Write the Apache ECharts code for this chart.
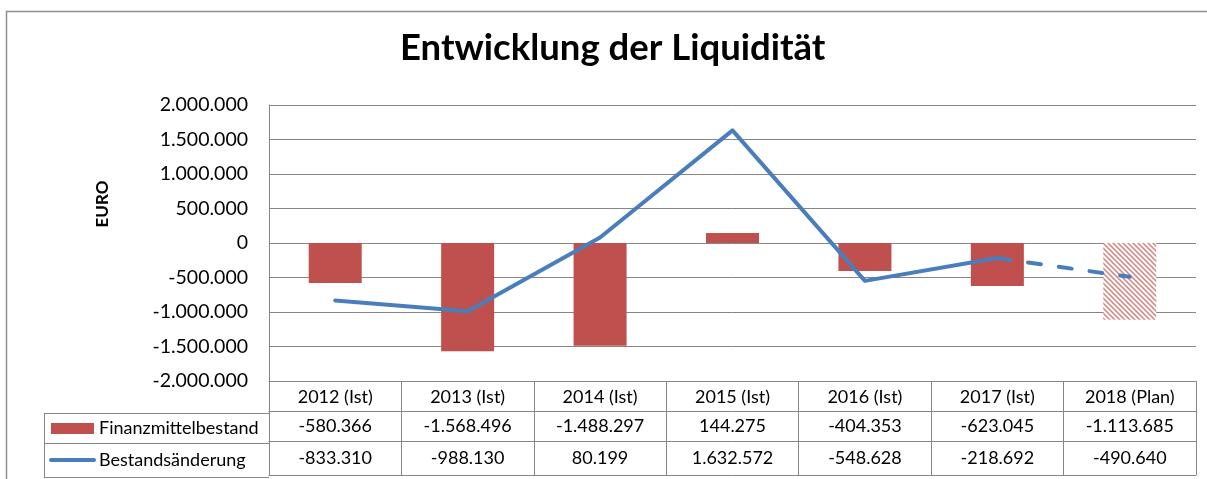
<!DOCTYPE html>
<html>
<head>
<meta charset="utf-8">
<script src="https://cdn.jsdelivr.net/npm/echarts@6/dist/echarts.min.js"></script>
<style>
html, body { margin: 0; padding: 0; background: #fff; }
#chart { width: 1207px; height: 479px; }
</style>
</head>
<body>
<div id="chart"></div>
<script>
var categories = ['2012 (Ist)', '2013 (Ist)', '2014 (Ist)', '2015 (Ist)', '2016 (Ist)', '2017 (Ist)', '2018 (Plan)'];
var finanzmittel = [-580366, -1568496, -1488297, 144275, -404353, -623045, -1113685];
var bestand = [-833310, -988130, 80199, 1632572, -548628, -218692, -490640];
var seriesNames = ['Finanzmittelbestand', 'Bestandsänderung'];
var planIndex = 6;

function fmt(n) {
    var s = String(Math.abs(Math.round(n)));
    var out = '';
    while (s.length > 3) {
        out = '.' + s.slice(-3) + out;
        s = s.slice(0, -3);
    }
    return (n < 0 ? '-' : '') + s + out;
}

// hatched fill for the plan bar
function makeHatch() {
    var n = 5;
    var c = document.createElement('canvas');
    c.width = n; c.height = n;
    var ctx = c.getContext('2d');
    ctx.fillStyle = '#ffffff';
    ctx.fillRect(0, 0, n, n);
    ctx.strokeStyle = '#d8807e';
    ctx.lineWidth = 1.5;
    ctx.beginPath();
    ctx.moveTo(-1, -1); ctx.lineTo(n + 1, n + 1);
    ctx.moveTo(-n - 1, -1); ctx.lineTo(1, n + 1);
    ctx.moveTo(n - 1, -1); ctx.lineTo(2 * n + 1, n + 1);
    ctx.stroke();
    return c;
}

var font = 'Lato, "Open Sans", sans-serif';
var gray = '#868686';
var blue = '#4A7EBB';
var red = '#C0504D';
var chart = echarts.init(document.getElementById('chart'));

var barData = finanzmittel.map(function (v, i) {
    if (i === planIndex) {
        return { value: v, itemStyle: { color: { image: makeHatch(), repeat: 'repeat' } } };
    }
    return v;
});
var solidLine = bestand.map(function (v, i) { return i < planIndex ? v : null; });
var dashLine = bestand.map(function (v, i) { return i >= planIndex - 1 ? v : null; });

function tableAxis(offset, labels, margin) {
    return {
        type: 'category',
        data: categories,
        position: 'bottom',
        offset: offset,
        axisLine: { show: true, onZero: false, lineStyle: { color: gray, width: 1 } },
        axisTick: { show: false },
        axisLabel: {
            interval: 0, margin: margin, color: '#000', fontFamily: font, fontSize: 18,
            formatter: labels ? function (v, i) { return labels[i]; } : function () { return ''; }
        }
    };
}

option = {
    animation: false,
    title: {
        text: 'Entwicklung der Liquidität',
        left: 400,
        top: 30,
        padding: 0,
        textStyle: { fontFamily: font, fontWeight: 'bold', fontSize: 36.5, color: '#000' }
    },
    grid: { left: 269, top: 105, width: 927, height: 277 },
    xAxis: [
        {
            type: 'category',
            data: categories,
            position: 'bottom',
            axisLine: { show: true, onZero: false, lineStyle: { color: gray, width: 1 } },
            axisTick: { show: true, length: 94, interval: 0, lineStyle: { color: gray, width: 1 } },
            axisLabel: { interval: 0, margin: 7, color: '#000', fontFamily: font, fontSize: 18 }
        },
        tableAxis(30, finanzmittel.map(fmt), 6),
        tableAxis(60, bestand.map(fmt), 8),
        tableAxis(94, null, 4)
    ],
    yAxis: {
        type: 'value',
        min: -2000000,
        max: 2000000,
        interval: 500000,
        axisLine: { show: true, lineStyle: { color: gray, width: 1 } },
        axisTick: { show: false },
        splitLine: { lineStyle: { color: gray, width: 1 } },
        axisLabel: { margin: 21, color: '#000', fontFamily: font, fontSize: 19.5, formatter: fmt }
    },
    graphic: [
        { type: 'rect', silent: true, z: -10, shape: { x: 6.5, y: 11.5, width: 1300, height: 600 },
          style: { fill: 'none', stroke: '#8e8e8e', lineWidth: 1.5 } },
        { type: 'text', x: 103, y: 204, rotation: Math.PI / 2, silent: true,
          style: { text: 'EURO', fontFamily: font, fontWeight: 'bold', fontSize: 17, fill: '#000',
                   textAlign: 'center', textVerticalAlign: 'middle' } },
        // left part of the data table
        { type: 'line', silent: true, shape: { x1: 44, y1: 413.5, x2: 269, y2: 413.5 }, style: { stroke: gray, lineWidth: 1 } },
        { type: 'line', silent: true, shape: { x1: 44, y1: 443.5, x2: 269, y2: 443.5 }, style: { stroke: gray, lineWidth: 1 } },
        { type: 'line', silent: true, shape: { x1: 44, y1: 477.5, x2: 269, y2: 477.5 }, style: { stroke: gray, lineWidth: 1 } },
        { type: 'line', silent: true, shape: { x1: 44.5, y1: 413, x2: 44.5, y2: 478 }, style: { stroke: gray, lineWidth: 1 } },
        { type: 'rect', silent: true, shape: { x: 51, y: 423, width: 43, height: 11 }, style: { fill: red } },
        { type: 'text', x: 99, y: 428, silent: true,
          style: { text: seriesNames[0], fontFamily: font, fontSize: 18, fill: '#000', textVerticalAlign: 'middle' } },
        { type: 'line', silent: true, shape: { x1: 51, y1: 460, x2: 94, y2: 460 },
          style: { stroke: blue, lineWidth: 4, lineCap: 'round' } },
        { type: 'text', x: 99, y: 460, silent: true,
          style: { text: seriesNames[1], fontFamily: font, fontSize: 18, fill: '#000', textVerticalAlign: 'middle' } }
    ],
    series: [
        {
            name: seriesNames[0],
            type: 'bar',
            barWidth: 53,
            itemStyle: { color: red },
            data: barData
        },
        {
            name: seriesNames[1],
            type: 'line',
            symbol: 'none',
            lineStyle: { color: blue, width: 4, cap: 'round', join: 'round' },
            data: solidLine
        },
        {
            name: seriesNames[1] + ' (Plan)',
            type: 'line',
            symbol: 'none',
            lineStyle: { color: blue, width: 4, type: [13, 18], cap: 'round' },
            data: dashLine
        }
    ]
};
chart.setOption(option);
</script>
</body>
</html>
